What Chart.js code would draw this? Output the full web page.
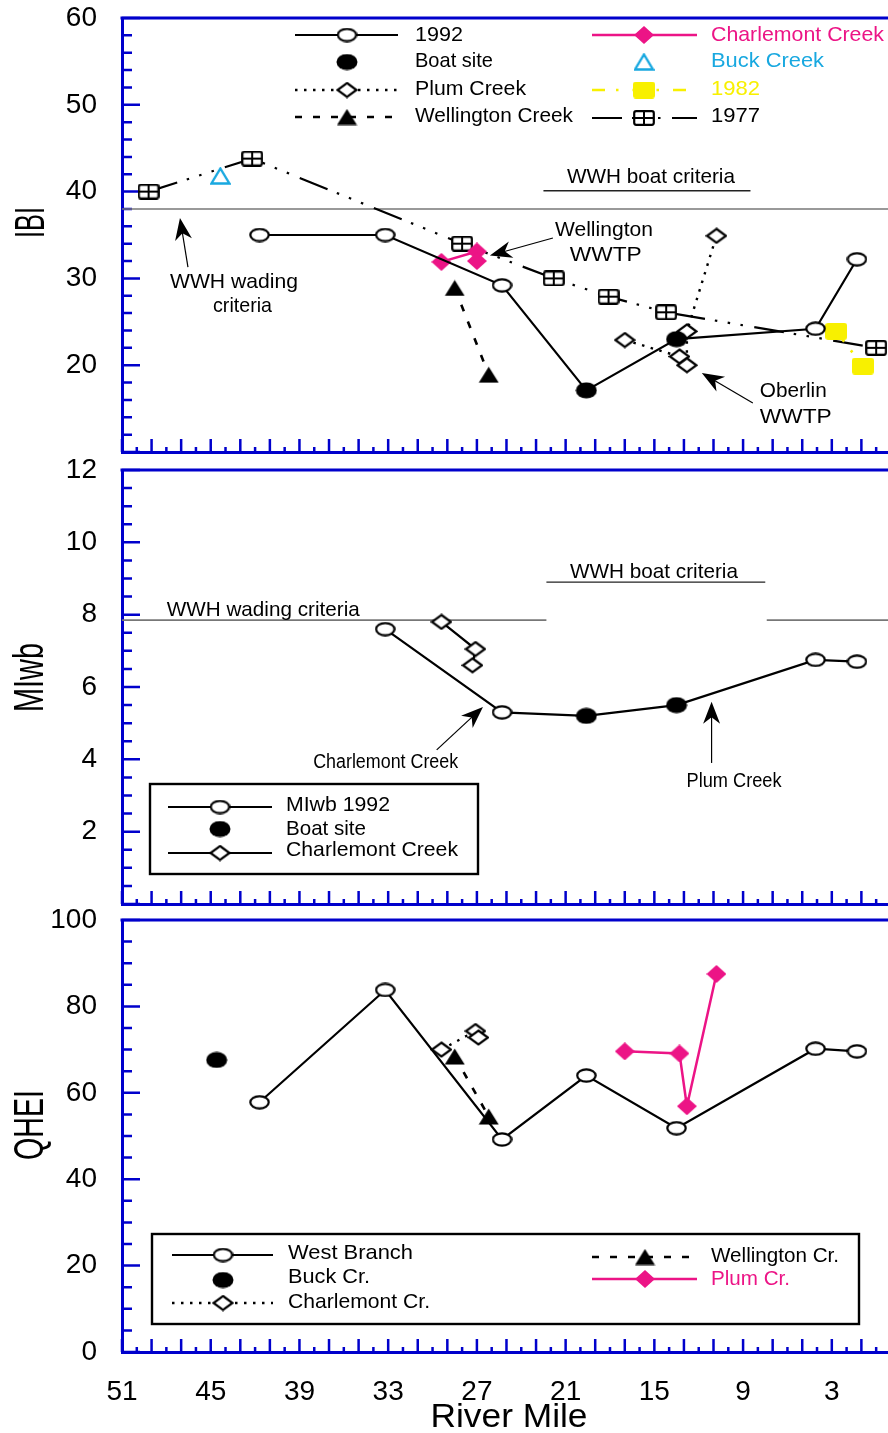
<!DOCTYPE html>
<html>
<head>
<meta charset="utf-8">
<script src="https://cdn.jsdelivr.net/npm/chart.js@4.4.1/dist/chart.umd.min.js"></script>
<style>
  html, body { margin: 0; padding: 0; background: #fff; }
  #page { position: relative; width: 888px; height: 1433px; overflow: hidden; }
  #page canvas { position: absolute; left: 0; }
</style>
</head>
<body>
<div id="page">
  <canvas id="qheiChart" width="888" height="533" style="top:900px;width:888px;height:533px"></canvas>
  <canvas id="miwbChart" width="888" height="476" style="top:450px;width:888px;height:476px"></canvas>
  <canvas id="ibiChart" width="888" height="474" style="top:0px;width:888px;height:474px"></canvas>
</div>
<script>
// ---- river mile axis ----
const mileMax = 51;
const mileMin = -0.8;
const mileLabels = [51, 45, 39, 33, 27, 21, 15, 9, 3];

// ---- IBI ----
const ibi1992Miles = [41.7, 33.2, 25.3, 19.6, 13.5, 4.1, 1.3];
const ibi1992 = [35, 35, 29.2, 17.1, 23.0, 24.2, 32.2];
const ibiBoatIdx = [3, 4];
const ibiCharlemontMiles = [29.4, 27.0, 27.0];
const ibiCharlemont = [31.9, 33.1, 32.0];
const ibiBuckMiles = [44.35];
const ibiBuck = [41.8];
const ibiPlumMiles = [17.0, 13.3, 12.8, 12.8, 10.8];
const ibiPlum = [22.9, 21.0, 20.0, 23.9, 34.9];
const ibiWellingtonMiles = [28.5, 26.2];
const ibiWellington = [28.9, 18.9];
const ibi1982Miles = [2.7, 0.9];
const ibi1982 = [23.9, 19.9];
const ibi1977Miles = [49.2, 42.2, 28.0, 21.8, 18.1, 14.2, 0.0];
const ibi1977 = [40.0, 43.8, 34.0, 30.0, 27.9, 26.1, 22.0];
const ibiWading = 38;
const ibiBoat = 40.1;
const ibiBoatReach = [22.5, 8.5];

// ---- MIwb ----
const miwb1992Miles = [33.2, 25.3, 19.6, 13.5, 4.1, 1.3];
const miwb1992 = [7.6, 5.3, 5.2, 5.5, 6.75, 6.7];
const miwbBoatIdx = [2, 3];
const miwbCharlemontMiles = [29.4, 27.1, 27.3];
const miwbCharlemont = [7.8, 7.05, 6.6];
const miwbWading = 7.85;
const miwbBoat = 8.9;
const miwbBoatReach = [22.3, 7.5];

// ---- QHEI ----
const qheiWestMiles = [41.7, 33.2, 25.3, 19.6, 13.5, 4.1, 1.3];
const qheiWest = [57.8, 83.8, 49.2, 64.0, 51.8, 70.2, 69.6];
const qheiBuckMiles = [44.6];
const qheiBuck = [67.6];
const qheiCharlemontMiles = [29.4, 27.1, 26.9];
const qheiCharlemont = [70.0, 74.3, 72.8];
const qheiWellingtonMiles = [28.5, 26.2];
const qheiWellington = [68.4, 54.5];
const qheiPlumMiles = [17.0, 13.3, 12.8, 10.8];
const qheiPlum = [69.6, 69.1, 56.9, 87.5];

const AXIS_BLUE = '#0000cc';
const PINK = '#ec1486';
const CYAN = '#18a8e0';
const YELLOW = '#f8f000';
const FONT = '"Liberation Sans", Arial, Helvetica, sans-serif';

function pts(miles, vals) {
  return miles.map((m, i) => ({ x: m, y: vals[i] }));
}

// little bitmap markers, used as point styles and in the legends
function marker(w, h, paint) {
  const c = document.createElement('canvas');
  c.width = w; c.height = h;
  paint(c.getContext('2d'), w, h);
  return c;
}
function poly(g, p) {
  g.beginPath();
  g.moveTo(p[0][0], p[0][1]);
  for (let i = 1; i < p.length; i++) g.lineTo(p[i][0], p[i][1]);
  g.closePath();
}
const MK = {
  open: marker(21, 15, (g, w, h) => {
    g.beginPath(); g.ellipse(w / 2, h / 2, w / 2 - 1.3, h / 2 - 1.3, 0, 0, Math.PI * 2);
    g.fillStyle = '#fff'; g.fill(); g.lineWidth = 2.2; g.strokeStyle = '#000'; g.stroke();
  }),
  boat: marker(22, 17, (g, w, h) => {
    g.beginPath(); g.ellipse(w / 2, h / 2, w / 2 - 0.5, h / 2 - 0.5, 0, 0, Math.PI * 2);
    g.fillStyle = '#000'; g.fill();
  }),
  diamond: marker(22, 17, (g, w, h) => {
    poly(g, [[w / 2, 1.5], [w - 1.5, h / 2], [w / 2, h - 1.5], [1.5, h / 2]]);
    g.fillStyle = '#fff'; g.fill(); g.lineWidth = 2.2; g.strokeStyle = '#000'; g.stroke();
  }),
  pink: marker(20, 18, (g, w, h) => {
    poly(g, [[w / 2, 0], [w, h / 2], [w / 2, h], [0, h / 2]]);
    g.fillStyle = PINK; g.fill();
  }),
  triangle: marker(21, 17, (g, w, h) => {
    poly(g, [[w / 2, 0.5], [w - 0.5, h - 0.5], [0.5, h - 0.5]]);
    g.fillStyle = '#000'; g.fill();
  }),
  cyanTri: marker(21, 18, (g, w, h) => {
    poly(g, [[w / 2, 1.5], [w - 1.5, h - 1.5], [1.5, h - 1.5]]);
    g.lineWidth = 2.4; g.strokeStyle = CYAN; g.stroke();
  }),
  crossed: marker(22, 16, (g, w, h) => {
    g.beginPath(); g.roundRect(1.2, 1.2, w - 2.4, h - 2.4, 2);
    g.fillStyle = '#fff'; g.fill(); g.lineWidth = 2.2; g.strokeStyle = '#000'; g.stroke();
    g.beginPath(); g.moveTo(w / 2, 1.2); g.lineTo(w / 2, h - 1.2);
    g.moveTo(1.2, h / 2); g.lineTo(w - 1.2, h / 2); g.lineWidth = 2; g.stroke();
  }),
  yellow: marker(22, 17, (g, w, h) => {
    g.beginPath(); g.roundRect(0, 0, w, h, 3);
    g.fillStyle = YELLOW; g.fill();
  })
};

// line styles shared by datasets and legend samples
const LS = {
  solid: { color: '#000', width: 2.2, dash: [] },
  pink: { color: PINK, width: 2.5, dash: [] },
  dotted: { color: '#000', width: 2.4, dash: [2.5, 6.5] },
  dashed: { color: '#000', width: 2.6, dash: [7, 11] },
  y1982: { color: YELLOW, width: 2.6, dash: [13, 11, 2.5, 14] },
  y1977: { color: '#000', width: 2.2, dash: [30, 10, 2.5, 10.5, 2.5, 10.5, 2.5, 11.5] },
  wading: { color: '#777', width: 1.6, dash: [] },
  boat: { color: '#222', width: 1.4, dash: [] }
};

function series(data, style, pointStyle, showLine) {
  return {
    data: data,
    showLine: showLine !== false && !!style,
    borderColor: style ? style.color : '#000',
    borderWidth: style ? style.width : 0,
    borderDash: style ? style.dash : [],
    pointStyle: pointStyle || false,
    pointRadius: pointStyle ? 6 : 0,
    tension: 0
  };
}
function refLine(y, from, to, style) {
  return series([{ x: from, y: y }, { x: to, y: y }], style, null);
}

function isMult(v, step) {
  const r = Math.abs(v / step - Math.round(v / step));
  return r < 1e-6;
}

// inward tick marks in blue plus the top frame line
function innerTicks(yMajor) {
  return {
    id: 'innerTicks',
    beforeDatasetsDraw(chart) {
      const { ctx, chartArea: a } = chart;
      const xs = chart.scales.x, ys = chart.scales.y;
      ctx.save();
      ctx.strokeStyle = AXIS_BLUE;
      ctx.lineWidth = 2.5;
      ctx.beginPath();
      xs.ticks.forEach(t => {
        const px = xs.getPixelForValue(t.value);
        const len = Math.abs(t.value % 2) === 1 ? 13 : 5;
        ctx.moveTo(px, a.bottom);
        ctx.lineTo(px, a.bottom - len);
      });
      ys.ticks.forEach(t => {
        const py = ys.getPixelForValue(t.value);
        const len = isMult(t.value, yMajor) ? 18 : 10;
        ctx.moveTo(a.left, py);
        ctx.lineTo(a.left + len, py);
      });
      ctx.stroke();
      ctx.lineWidth = 3;
      ctx.beginPath();
      ctx.moveTo(a.left - 1.5, a.top);
      ctx.lineTo(a.right + 2, a.top);
      ctx.stroke();
      ctx.restore();
    }
  };
}

function fitText(ctx, text, x, y, size, width, color, align, rotate) {
  ctx.save();
  ctx.font = size + 'px ' + FONT;
  ctx.fillStyle = color || '#000';
  ctx.textBaseline = 'middle';
  ctx.textAlign = align || 'center';
  const w = ctx.measureText(text).width;
  ctx.translate(x, y);
  if (rotate) ctx.rotate(-Math.PI / 2);
  ctx.scale(width ? width / w : 1, 1);
  ctx.fillText(text, 0, 0);
  ctx.restore();
}

function drawArrow(ctx, x0, y0, x1, y1) {
  const dx = x1 - x0, dy = y1 - y0;
  const len = Math.hypot(dx, dy);
  const ux = dx / len, uy = dy / len;
  const L = 22, W = 8.5;
  ctx.save();
  ctx.strokeStyle = '#000';
  ctx.lineWidth = 1.2;
  ctx.beginPath();
  ctx.moveTo(x0, y0);
  ctx.lineTo(x1 - ux * L * 0.6, y1 - uy * L * 0.6);
  ctx.stroke();
  ctx.fillStyle = '#000';
  ctx.beginPath();
  ctx.moveTo(x1, y1);
  ctx.lineTo(x1 - ux * L - uy * W, y1 - uy * L + ux * W);
  ctx.lineTo(x1 - ux * L * 0.7, y1 - uy * L * 0.7);
  ctx.lineTo(x1 - ux * L + uy * W, y1 - uy * L - ux * W);
  ctx.closePath();
  ctx.fill();
  ctx.restore();
}

// labels, arrows, legend and axis titles for one panel
function notes(cfg) {
  return {
    id: 'riverNotes',
    afterDatasetsDraw(chart) {
      const { ctx } = chart;
      const xs = chart.scales.x, ys = chart.scales.y;
      const oy = chart.canvas.offsetTop;
      (cfg.texts || []).forEach(t => {
        fitText(ctx, t.text, xs.getPixelForValue(t.x), ys.getPixelForValue(t.y), t.size || 21, t.w);
      });
      (cfg.arrows || []).forEach(a => {
        drawArrow(ctx, xs.getPixelForValue(a[0][0]), ys.getPixelForValue(a[0][1]),
          xs.getPixelForValue(a[1][0]), ys.getPixelForValue(a[1][1]));
      });
      if (cfg.box) {
        const b = cfg.box;
        ctx.save();
        ctx.strokeStyle = '#000';
        ctx.lineWidth = 2.4;
        ctx.strokeRect(b[0], b[1] - oy, b[2] - b[0], b[3] - b[1]);
        ctx.restore();
      }
      (cfg.legend || []).forEach(r => {
        const y = r.y - oy;
        if (r.line) {
          ctx.save();
          ctx.strokeStyle = r.line.color;
          ctx.lineWidth = r.line.width;
          ctx.setLineDash(r.line.dash);
          ctx.beginPath();
          ctx.moveTo(r.x1, y);
          ctx.lineTo(r.x2, y);
          ctx.stroke();
          ctx.restore();
        }
        if (r.mk) ctx.drawImage(r.mk, r.mx - r.mk.width / 2, y - r.mk.height / 2);
        fitText(ctx, r.text, r.tx, r.ty - oy, 21, r.w, r.color || '#000', 'left');
      });
      (cfg.titles || []).forEach(t => {
        fitText(ctx, t.text, t.x, t.y - oy, t.size, t.len, '#000', 'center', t.rotate);
      });
    }
  };
}

function panelOptions(p) {
  return {
    responsive: false,
    animation: false,
    events: [],
    layout: { autoPadding: false, padding: { top: p.padTop, right: 0, bottom: 0, left: 0 } },
    plugins: { legend: { display: false }, tooltip: { enabled: false } },
    scales: {
      x: {
        type: 'linear', reverse: true, min: mileMin, max: mileMax,
        grid: { display: false, drawTicks: false },
        border: { display: true, color: AXIS_BLUE, width: 3 },
        ticks: {
          display: !!p.xLabels, stepSize: 1, autoSkip: false, maxRotation: 0, minRotation: 0,
          includeBounds: false, padding: 23, color: '#000',
          font: { family: FONT, size: 28 },
          callback: v => mileLabels.includes(v) ? String(v) : ''
        },
        // fixed axis band; labels may hang over the edges of the plot
        afterFit: s => { s.height = p.xHeight; s.paddingLeft = 0; s.paddingRight = 0; }
      },
      y: {
        type: 'linear', min: p.yMin, max: p.yMax,
        grid: { display: false, drawTicks: false },
        border: { display: true, color: AXIS_BLUE, width: 3 },
        ticks: {
          stepSize: p.yStep, autoSkip: false, includeBounds: false, padding: 25, color: '#000',
          font: { family: FONT, size: 28 },
          callback: v => (isMult(v, p.yLabelStep) && v >= p.yLabelFrom) ? String(v) : ''
        },
        afterFit: s => { s.width = 122; s.paddingTop = 0; s.paddingBottom = 0; }
      }
    }
  };
}

const colL = { x1: 295, x2: 398, mx: 347, tx: 415 };
const colR = { x1: 592, x2: 697, mx: 644, tx: 711 };

// IBI panel
new Chart(document.getElementById('ibiChart'), {
  type: 'scatter',
  data: {
    datasets: [
      series(pts(ibi1992Miles, ibi1992), LS.solid, c => ibiBoatIdx.includes(c.dataIndex) ? MK.boat : MK.open),
      series(pts(ibiCharlemontMiles, ibiCharlemont), LS.pink, MK.pink),
      series(pts(ibiBuckMiles, ibiBuck), null, MK.cyanTri),
      series(pts(ibiPlumMiles, ibiPlum), LS.dotted, MK.diamond),
      series(pts(ibiWellingtonMiles, ibiWellington), LS.dashed, MK.triangle),
      series(pts(ibi1982Miles, ibi1982), LS.y1982, MK.yellow),
      series(pts(ibi1977Miles, ibi1977), LS.y1977, MK.crossed),
      refLine(ibiWading, mileMax, mileMin, LS.wading),
      refLine(ibiBoat, ibiBoatReach[0], ibiBoatReach[1], LS.boat)
    ]
  },
  options: panelOptions({ padTop: 18, xHeight: 22, yMin: 10, yMax: 60, yStep: 2, yLabelStep: 10, yLabelFrom: 20 }),
  plugins: [innerTicks(10), notes({
    texts: [
      { text: 'WWH boat criteria', x: 15.23, y: 41.62, w: 168 },
      { text: 'WWH wading', x: 43.43, y: 29.53, w: 128 },
      { text: 'criteria', x: 42.85, y: 26.82, w: 59 },
      { text: 'Wellington', x: 18.41, y: 35.54, w: 98 },
      { text: 'WWTP', x: 18.29, y: 32.7, w: 72 },
      { text: 'Oberlin', x: 5.61, y: 17.03, w: 67 },
      { text: 'WWTP', x: 5.44, y: 13.97, w: 72 }
    ],
    arrows: [
      [[46.54, 31.31], [47.08, 36.96]],
      [[21.86, 34.65], [26.12, 32.64]],
      [[8.34, 15.65], [11.79, 19.1]]
    ],
    legend: [
      Object.assign({ y: 35, ty: 35, line: LS.solid, mk: MK.open, text: '1992', w: 48 }, colL),
      Object.assign({ y: 62, ty: 61, mk: MK.boat, text: 'Boat site', w: 78 }, colL),
      Object.assign({ y: 90, ty: 89, line: LS.dotted, mk: MK.diamond, text: 'Plum Creek', w: 111 }, colL),
      Object.assign({ y: 117, ty: 116, line: LS.dashed, mk: MK.triangle, text: 'Wellington Creek', w: 158 }, colL),
      Object.assign({ y: 35, ty: 35, line: LS.pink, mk: MK.pink, text: 'Charlemont Creek', w: 173, color: PINK }, colR),
      Object.assign({ y: 62, ty: 61, mk: MK.cyanTri, text: 'Buck Creek', w: 113, color: CYAN }, colR),
      Object.assign({ y: 90, ty: 89, line: LS.y1982, mk: MK.yellow, text: '1982', w: 49, color: YELLOW }, colR),
      Object.assign({ y: 118, ty: 116, line: LS.y1977, mk: MK.crossed, text: '1977', w: 49 }, colR)
    ],
    titles: [{ text: 'IBI', x: 32, y: 222.5, size: 42, len: 31, rotate: true }]
  })]
});

// MIwb panel
const colM = { x1: 168, x2: 272, mx: 220, tx: 286 };
new Chart(document.getElementById('miwbChart'), {
  type: 'scatter',
  data: {
    datasets: [
      series(pts(miwb1992Miles, miwb1992), LS.solid, c => miwbBoatIdx.includes(c.dataIndex) ? MK.boat : MK.open),
      series(pts(miwbCharlemontMiles, miwbCharlemont), LS.solid, MK.diamond),
      refLine(miwbWading, mileMax, miwbBoatReach[0], LS.wading),
      refLine(miwbWading, 7.4, mileMin, LS.wading),
      refLine(miwbBoat, miwbBoatReach[0], miwbBoatReach[1], LS.boat)
    ]
  },
  options: panelOptions({ padTop: 20, xHeight: 22, yMin: 0, yMax: 12, yStep: 0.5, yLabelStep: 2, yLabelFrom: 2 }),
  plugins: [innerTicks(2), notes({
    texts: [
      { text: 'WWH wading criteria', x: 41.45, y: 8.13, w: 193 },
      { text: 'WWH boat criteria', x: 15.03, y: 9.17, w: 168 },
      { text: 'Charlemont Creek', x: 33.17, y: 3.91, w: 145, size: 20 },
      { text: 'Plum Creek', x: 9.61, y: 3.4, w: 95, size: 20 }
    ],
    arrows: [
      [[29.72, 4.26], [26.59, 5.45]],
      [[11.13, 3.9], [11.13, 5.59]]
    ],
    box: [150, 784, 478, 874],
    legend: [
      Object.assign({ y: 807, ty: 805, line: LS.solid, mk: MK.open, text: 'MIwb 1992', w: 104 }, colM),
      Object.assign({ y: 829, ty: 829, mk: MK.boat, text: 'Boat site', w: 80 }, colM),
      Object.assign({ y: 853, ty: 850, line: LS.solid, mk: MK.diamond, text: 'Charlemont Creek', w: 172 }, colM)
    ],
    titles: [{ text: 'MIwb', x: 31, y: 677.5, size: 42, len: 69, rotate: true }]
  })]
});

// QHEI panel
const colQ = { x1: 172, x2: 273, mx: 223, tx: 288 };
const colQR = { x1: 592, x2: 697, mx: 645, tx: 711 };
new Chart(document.getElementById('qheiChart'), {
  type: 'scatter',
  data: {
    datasets: [
      series(pts(qheiWestMiles, qheiWest), LS.solid, MK.open),
      series(pts(qheiBuckMiles, qheiBuck), null, MK.boat),
      series(pts(qheiCharlemontMiles, qheiCharlemont), LS.dotted, MK.diamond),
      series(pts(qheiWellingtonMiles, qheiWellington), LS.dashed, MK.triangle),
      series(pts(qheiPlumMiles, qheiPlum), LS.pink, MK.pink)
    ]
  },
  options: panelOptions({ padTop: 20, xHeight: 81, xLabels: true, yMin: 0, yMax: 100, yStep: 5, yLabelStep: 20, yLabelFrom: 0 }),
  plugins: [innerTicks(20), notes({
    box: [152, 1234, 859, 1324],
    legend: [
      Object.assign({ y: 1255, ty: 1253, line: LS.solid, mk: MK.open, text: 'West Branch', w: 125 }, colQ),
      Object.assign({ y: 1280, ty: 1277, mk: MK.boat, text: 'Buck Cr.', w: 82 }, colQ),
      Object.assign({ y: 1303, ty: 1302, line: LS.dotted, mk: MK.diamond, text: 'Charlemont Cr.', w: 142 }, colQ),
      Object.assign({ y: 1257, ty: 1256, line: LS.dashed, mk: MK.triangle, text: 'Wellington Cr.', w: 128 }, colQR),
      Object.assign({ y: 1279, ty: 1279, line: LS.pink, mk: MK.pink, text: 'Plum Cr.', w: 79, color: PINK }, colQR)
    ],
    titles: [
      { text: 'QHEI', x: 31, y: 1125, size: 42, len: 70, rotate: true },
      { text: 'River Mile', x: 509, y: 1418, size: 34, len: 157 }
    ]
  })]
});
</script>
</body>
</html>
